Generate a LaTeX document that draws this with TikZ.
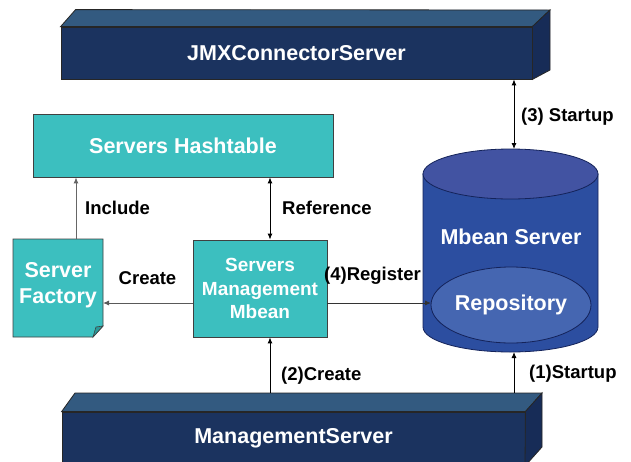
\documentclass[tikz,border=0pt]{standalone}
\usepackage{fontspec}
\setmainfont{Liberation Sans}
\usetikzlibrary{arrows.meta}
\definecolor{navyfront}{HTML}{1B335F}
\definecolor{navytop}{HTML}{335A80}
\definecolor{navyside}{HTML}{172C57}
\definecolor{tealc}{HTML}{3CBFBF}
\definecolor{tealdark}{HTML}{2A9A9A}
\definecolor{cylbody}{HTML}{2C4EA0}
\definecolor{cyltop}{HTML}{4253A2}
\definecolor{repoc}{HTML}{4566B1}
\definecolor{cylline}{HTML}{14235A}
\tikzset{
  bigtext/.style={font=\fontsize{21.5}{25}\selectfont\bfseries},
  tealbox/.style={draw=black!75, line width=0.8pt, fill=tealc, text=white, bigtext, align=center, inner sep=0pt},
  frontbox/.style={draw=black!85, line width=0.8pt, fill=navyfront, text=white, bigtext, inner sep=0pt},
  face/.style={draw=black!85, line width=0.8pt},
  lbl/.style={font=\fontsize{18.5}{21}\selectfont\bfseries, text=black, inner sep=0pt},
  conn/.style={line width=0.9pt, -{Latex[length=6pt,width=5pt]}},
  conn2/.style={line width=0.9pt, {Latex[length=6pt,width=5pt]}-{Latex[length=6pt,width=5pt]}},
}
\begin{document}
\begin{tikzpicture}[x=1pt,y=-1pt]
\clip (0,0) rectangle (631,461);
\fill[white] (0,0) rectangle (631,461);

% JMXConnectorServer 3D box
\node[frontbox, minimum width=471pt, minimum height=52pt] (jmx) at (296.5,53) {JMXConnectorServer};
\draw[face, fill=navytop] (jmx.north west) -- ++(15,-17) -- (550,10) -- (jmx.north east) -- cycle;
\draw[face, fill=navyside] (jmx.north east) -- (550,10) -- (550,70) -- (jmx.south east) -- cycle;

% ManagementServer 3D box
\node[frontbox, minimum width=463pt, minimum height=52pt] (ms) at (293.5,438) {ManagementServer};
\draw[face, fill=navytop] (ms.north west) -- (75,393) -- (542,393) -- (ms.north east) -- cycle;
\draw[face, fill=navyside] (ms.north east) -- (542,393) -- (542,447) -- (525,466) -- cycle;

% Servers Hashtable
\node[tealbox, minimum width=300pt, minimum height=63pt] (hash) at (183,145.5) {Servers Hashtable};

% Server Factory (document shape)
\draw[line width=0.8pt, draw=black!75, fill=tealc] (13,239) -- (103,239) -- (103,326) -- (93,337) -- (13,337) -- cycle;
\draw[line width=0.6pt, draw=black!75, fill=tealdark] (93,337) -- (96,327) -- (103,326) -- cycle;
\node[text=white, font=\fontsize{21.5}{26}\selectfont\bfseries, align=center, inner sep=0pt] (factory) at (58,285) {Server\\Factory};
\coordinate (factoryE) at (103,303);
\coordinate (factoryN) at (76,239);

% Servers Management Mbean
\node[tealbox, minimum width=134pt, minimum height=97pt, font=\fontsize{19}{23.5}\selectfont\bfseries] (mbean) at (260,288.5) {Servers\\Management\\Mbean};

% Mbean Server cylinder
\draw[line width=0.8pt, draw=cylline, fill=cylbody] (423,174) -- (423,327) arc[start angle=180, end angle=360, x radius=87.5, y radius=-25] -- (598,174) -- cycle;
\draw[line width=0.8pt, draw=cylline, fill=cyltop] (510.5,174) ellipse [x radius=87.5, y radius=25];
\node[text=white, bigtext, inner sep=0pt] (mbs) at (511,237) {Mbean Server};
\draw[line width=0.8pt, draw=cylline, fill=repoc] (511,305) ellipse [x radius=80, y radius=38];
\node[text=white, bigtext, inner sep=0pt] (repo) at (511,305) {Repository};
\coordinate (repoW) at (431,303);
\coordinate (cylTop) at (514,149);
\coordinate (cylBot) at (514,352);

% connectors
\draw[conn, draw=black!60] (factoryN) -- (factoryN |- hash.south);
\draw[conn2] ([xshift=10pt]mbean.north) -- ([xshift=10pt]mbean.north |- hash.south);
\draw[conn, draw=black!65] (mbean.west |- factoryE) -- (factoryE);
\draw[conn, draw=black!80] (mbean.east |- repoW) -- (repoW);
\draw[conn] (270,393) -- ([xshift=10pt]mbean.south);
\draw[conn2] (cylTop) -- (cylTop |- jmx.south);
\draw[conn] (514,393) -- (cylBot);

% labels
\node[lbl, anchor=west] (linc) at (85,208) {Include};
\node[lbl, anchor=west] (lref) at (282,208) {Reference};
\node[lbl] (lcre) at (147.5,278) {Create};
\node[lbl] (lreg) at (372.5,276) {(4)Register};
\node[lbl, anchor=west] (lcre2) at (281,376) {(2)Create};
\node[lbl, anchor=west] (lst3) at (521,117) {(3) Startup};
\node[lbl, anchor=west] (lst1) at (529,374) {(1)Startup};
\end{tikzpicture}
\end{document}
